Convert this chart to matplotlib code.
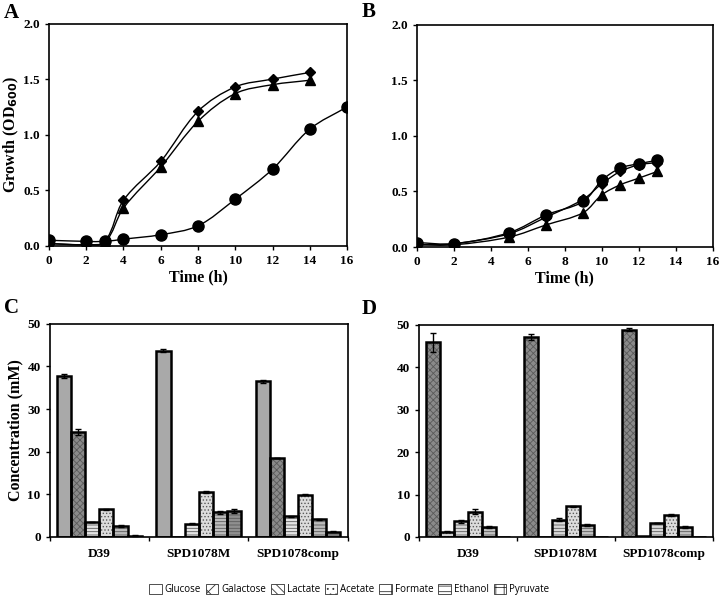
import numpy as np
import matplotlib
matplotlib.use("Agg")
import matplotlib.pyplot as plt
from matplotlib.path import Path
from matplotlib.patches import PathPatch, Patch

plt.rcParams['font.family'] = ['Liberation Serif', 'DejaVu Serif']
plt.rcParams['font.weight'] = 'bold'
plt.rcParams['hatch.linewidth'] = 0.6

# Panel A growth data
tA_d = [0, 2, 3, 4, 6, 8, 10, 12, 14]
odA_d = [0.02, 0.01, 0.04, 0.41, 0.76, 1.21, 1.43, 1.50, 1.56]
tA_t = [0, 2, 3, 4, 6, 8, 10, 12, 14]
odA_t = [0.02, 0.01, 0.03, 0.34, 0.71, 1.12, 1.37, 1.45, 1.49]
tA_c = [0, 2, 3, 4, 6, 8, 10, 12, 14, 16]
odA_c = [0.05, 0.04, 0.04, 0.06, 0.10, 0.18, 0.42, 0.69, 1.05, 1.25]

# Panel B growth data
tB = [0, 2, 5, 7, 9, 10, 11, 12, 13]
odB_d = [0.02, 0.03, 0.12, 0.27, 0.43, 0.57, 0.68, 0.74, 0.76]
odB_t = [0.02, 0.02, 0.09, 0.20, 0.31, 0.47, 0.56, 0.62, 0.68]
odB_c = [0.04, 0.03, 0.13, 0.29, 0.41, 0.60, 0.71, 0.75, 0.78]

# Panels C/D metabolite data (6 bars per strain)
strains = ['D39', 'SPD1078M', 'SPD1078comp']
conc_C = [[37.8, 24.7, 3.5, 6.5, 2.6, 0.3],
          [43.7, 0.0, 3.1, 10.5, 5.8, 6.1],
          [36.5, 18.5, 4.8, 9.9, 4.1, 1.2]]
err_C = [[0.5, 0.7, 0.1, 0.1, 0.2, 0.05],
         [0.3, 0.0, 0.1, 0.3, 0.4, 0.4],
         [0.3, 0.1, 0.2, 0.1, 0.1, 0.1]]
conc_D = [[45.9, 1.2, 3.7, 6.0, 2.3, 0.0],
          [47.1, 0.0, 4.1, 7.2, 2.8, 0.0],
          [48.9, 0.3, 3.3, 5.1, 2.4, 0.0]]
err_D = [[2.2, 0.1, 0.3, 0.5, 0.3, 0.0],
         [0.7, 0.0, 0.3, 0.2, 0.2, 0.0],
         [0.4, 0.0, 0.1, 0.2, 0.2, 0.0]]

legend_names = ['Glucose', 'Galactose', 'Lactate', 'Acetate', 'Formate', 'Ethanol', 'Pyruvate']

style_C = [('#a9a9a9', ''), ('#8a8a8a', 'xxxxx'), ('#e4e4e4', '-----'),
           ('#dcdcdc', '.....'), ('#bcbcbc', '-----'), ('#8f8f8f', '-----')]
style_D = [('#8a8a8a', 'xxxxx'), ('#d0d0d0', '.....'), ('#d8d8d8', '-----'),
           ('#dcdcdc', '.....'), ('#c2c2c2', '-----'), ('#8f8f8f', '')]


def smooth_line(ax, x, y, sx, sy):
    # bezier through the points, tangents scaled by segment length (screen-like space)
    p = np.column_stack([np.asarray(x, float) * sx, np.asarray(y, float) * sy])
    n = len(p)
    verts = [p[0]]
    codes = [Path.MOVETO]
    tang = []
    for i in range(n):
        a = p[i - 1] if i > 0 else p[i]
        b = p[i + 1] if i < n - 1 else p[i]
        d = b - a
        tang.append(d / (np.hypot(*d) + 1e-12))
    for i in range(n - 1):
        L = np.hypot(*(p[i + 1] - p[i]))
        c1 = p[i] + tang[i] * L / 3.0
        c2 = p[i + 1] - tang[i + 1] * L / 3.0
        verts += [c1, c2, p[i + 1]]
        codes += [Path.CURVE4] * 3
    verts = np.array(verts) / [sx, sy]
    ax.add_patch(PathPatch(Path(verts, codes), fill=False, lw=1.0, color='black', zorder=2))


def growth_axes(ax):
    ax.set_xlim(0, 16)
    ax.set_ylim(0, 2.0)
    ax.set_xticks(range(0, 17, 2))
    ax.set_yticks([0, 0.5, 1.0, 1.5, 2.0])
    ax.set_yticklabels(['0.0', '0.5', '1.0', '1.5', '2.0'])
    ax.tick_params(direction='out', length=3, width=1, labelsize=9.5, top=False, right=False)
    for s in ax.spines.values():
        s.set_linewidth(1.2)
    ax.set_xlabel('Time (h)', fontsize=11.5, fontweight='bold', labelpad=2)


fig = plt.figure(figsize=(7.2, 6.04), dpi=100)

axA = fig.add_axes([0.068, 0.593, 0.414, 0.368])
axB = fig.add_axes([0.579, 0.591, 0.411, 0.368])
axC = fig.add_axes([0.069, 0.111, 0.414, 0.353])
axD = fig.add_axes([0.582, 0.111, 0.408, 0.351])

# screen-space scale (px per data unit)
sx, sy = 298 / 16, 222 / 2.0

# Panel A
for t, od, m, ms in [(tA_c, odA_c, 'o', 8), (tA_t, odA_t, '^', 7), (tA_d, odA_d, 'D', 5.5)]:
    smooth_line(axA, t, od, sx, sy)
    axA.plot(t, od, ls='none', marker=m, ms=ms, color='black', zorder=3)
growth_axes(axA)
axA.set_ylabel('Growth (OD$_{\\mathbf{600}}$)', fontsize=11.5, fontweight='bold', labelpad=2)

# Panel B
for od, m, ms in [(odB_d, 'D', 5.5), (odB_t, '^', 7), (odB_c, 'o', 8)]:
    smooth_line(axB, tB, od, sx, sy)
    axB.plot(tB, od, ls='none', marker=m, ms=ms, color='black', zorder=3)
growth_axes(axB)


def bar_panel(ax, conc, err, styles):
    nb = len(styles)
    w = 0.142
    x = np.arange(len(strains))
    conc = np.array(conc)
    err = np.array(err)
    for j, (fc, h) in enumerate(styles):
        xs = x + (j - (nb - 1) / 2) * w
        ax.bar(xs, conc[:, j], w, color=fc, hatch=h, edgecolor='#5a5a5a', lw=0, zorder=2)
        ax.bar(xs, conc[:, j], w, fill=False, edgecolor='black', lw=1.8, zorder=3)
        mask = err[:, j] > 0
        ax.errorbar(xs[mask], conc[mask, j], yerr=err[mask, j], fmt='none', ecolor='black',
                    elinewidth=1, capsize=2.5, capthick=1, zorder=4)
    ax.set_xlim(-0.5, 2.5)
    ax.set_ylim(0, 50)
    ax.set_yticks(range(0, 51, 10))
    ax.set_xticks(x)
    ax.set_xticklabels(strains)
    ax.set_xticks([-0.5, 0.5, 1.5, 2.5], minor=True)
    ax.tick_params(axis='x', which='major', length=0, labelsize=9.5, pad=8)
    ax.tick_params(axis='x', which='minor', direction='out', length=3, width=1)
    ax.tick_params(axis='y', direction='out', length=3, width=1, labelsize=9.5)
    for s in ax.spines.values():
        s.set_linewidth(1.2)


bar_panel(axC, conc_C, err_C, style_C)
axC.set_ylabel('Concentration (mM)', fontsize=11.5, fontweight='bold', labelpad=3)
bar_panel(axD, conc_D, err_D, style_D)

# panel letters
for lbl, x, y in [('A', 0.005, 0.978), ('B', 0.502, 0.98), ('C', 0.005, 0.49), ('D', 0.502, 0.488)]:
    fig.text(x, y, lbl, fontsize=15, fontweight='bold', va='center')

# legend at bottom
leg_styles = [('white', ''), ('white', 'XX'), ('white', '\\\\\\\\'), ('white', '...'),
              ('white', '+'), ('white', '---'), ('white', '++')]
handles = [Patch(facecolor=fc, hatch=h, edgecolor='#333333', lw=0.6) for fc, h in leg_styles]
fig.legend(handles, legend_names, loc='center', bbox_to_anchor=(0.485, 0.024), ncol=7,
           frameon=False, prop={'family': 'Open Sans', 'size': 7, 'weight': 'normal'},
           handlelength=1.3, handleheight=1.2, handletextpad=0.3, columnspacing=0.5)

fig.savefig('out.png', dpi=100)
